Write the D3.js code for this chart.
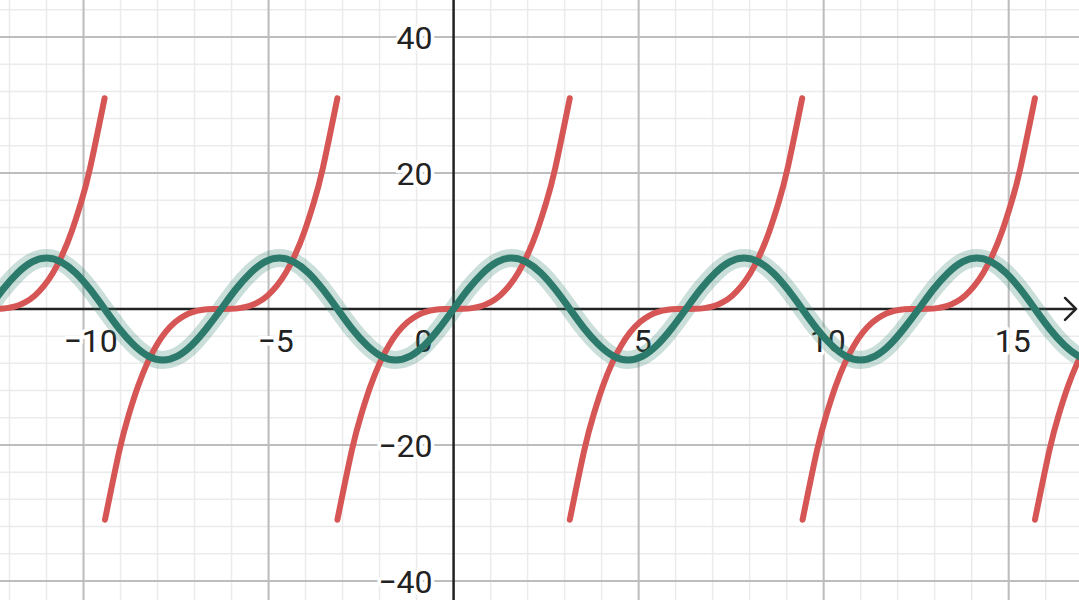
<!DOCTYPE html>
<html>
<head>
<meta charset="utf-8">
<script src="https://cdn.jsdelivr.net/npm/d3@7"></script>
<style>
  html, body { margin: 0; padding: 0; background: #fff; }
  svg { display: block; }
  text { font-family: Roboto, "Noto Sans", sans-serif; }
</style>
</head>
<body>
<svg id="chart" width="1079" height="600"></svg>
<script>
// ---- data ----
const xTickLabels = [-10, -5, 5, 10, 15];
const yTickLabels = [-40, -20, 20, 40];

// green wave: one cycle of key points (offset from cycle start, value)
const greenCycleStarts = [-18.85, -12.57, -6.28, 0, 6.28, 12.57];
const greenOffsets = [0, 0.39, 0.79, 1.18, 1.57, 1.96, 2.36, 2.75, 3.14, 3.53, 3.93, 4.32, 4.71, 5.11, 5.50, 5.89];
const greenValues  = [0, 2.87, 5.30, 6.93, 7.5, 6.93, 5.30, 2.87, 0, -2.87, -5.30, -6.93, -7.5, -6.93, -5.30, -2.87];

// red segments: one branch (offset from centre, value), repeated at each centre
const redCentres = [-12.57, -6.28, 0, 6.28, 12.57, 18.85];
const redOffsets = [-3.14, -2.75, -2.5, -2.25, -2, -1.75, -1.5, -1.25, -1, -0.75, -0.5, -0.25, 0,
                    0.25, 0.5, 0.75, 1, 1.25, 1.5, 1.75, 2, 2.25, 2.5, 2.75, 3.14];
const redValues  = [-31.0, -20.8, -15.6, -11.4, -8.0, -5.36, -3.38, -1.95, -1.0, -0.42, -0.125, -0.016, 0,
                    0.016, 0.125, 0.42, 1.0, 1.95, 3.38, 5.36, 8.0, 11.4, 15.6, 20.8, 31.0];

// ---- drawing ----
const W = 1079, H = 600;
const svg = d3.select("#chart");
const x = d3.scaleLinear().domain([-12.257, 16.9]).range([0, W]);
const y = d3.scaleLinear().domain([-42.8, 45.44]).range([H, 0]);

const minorX = d3.range(-12, 17, 1), minorY = d3.range(-40, 45, 4);
const majorX = d3.range(-10, 17, 5), majorY = d3.range(-40, 45, 20);

const grid = svg.append("g");
grid.selectAll("line.mx").data(minorX).join("line")
  .attr("x1", d => x(d)).attr("x2", d => x(d)).attr("y1", 0).attr("y2", H)
  .attr("stroke", "#ebebeb").attr("stroke-width", 1.5);
grid.selectAll("line.my").data(minorY).join("line")
  .attr("y1", d => y(d)).attr("y2", d => y(d)).attr("x1", 0).attr("x2", W)
  .attr("stroke", "#ebebeb").attr("stroke-width", 1.5);
grid.selectAll("line.Mx").data(majorX.filter(d => d !== 0)).join("line")
  .attr("x1", d => x(d)).attr("x2", d => x(d)).attr("y1", 0).attr("y2", H)
  .attr("stroke", "#bdbdbd").attr("stroke-width", 2);
grid.selectAll("line.My").data(majorY.filter(d => d !== 0)).join("line")
  .attr("y1", d => y(d)).attr("y2", d => y(d)).attr("x1", 0).attr("x2", W)
  .attr("stroke", "#bdbdbd").attr("stroke-width", 2);

// axes
const axisColor = "#222";
svg.append("line").attr("x1", 0).attr("x2", W - 3).attr("y1", y(0)).attr("y2", y(0))
  .attr("stroke", axisColor).attr("stroke-width", 2.5);
svg.append("path")
  .attr("d", `M${W - 14},${y(0) - 11} L${W - 3},${y(0)} L${W - 14},${y(0) + 11}`)
  .attr("fill", "none").attr("stroke", axisColor).attr("stroke-width", 2.5)
  .attr("stroke-linecap", "round").attr("stroke-linejoin", "round");
svg.append("line").attr("x1", x(0)).attr("x2", x(0)).attr("y1", 0).attr("y2", H)
  .attr("stroke", axisColor).attr("stroke-width", 2.5);

// labels
const labelG = svg.append("g").attr("font-size", 32).attr("fill", "#222")
  .attr("stroke", "#fff").attr("stroke-width", 7).attr("paint-order", "stroke")
  .attr("stroke-linejoin", "round");
const fmt = v => (v < 0 ? "\u2212" + Math.abs(v) : String(v));
labelG.selectAll("text.xl").data(xTickLabels).join("text")
  .attr("x", d => x(d) + (d < 0 ? 7 : 4)).attr("y", y(0) + 43)
  .attr("text-anchor", "middle").text(fmt);
labelG.selectAll("text.yl").data(yTickLabels).join("text")
  .attr("x", x(0) - 21).attr("y", d => y(d) + 12)
  .attr("text-anchor", "end").text(fmt);
labelG.append("text").attr("x", x(0) - 21).attr("y", y(0) + 43)
  .attr("text-anchor", "end").text("0");

// curves
const clip = svg.append("defs").append("clipPath").attr("id", "clip");
clip.append("rect").attr("x", 0).attr("y", 0).attr("width", W).attr("height", H);
const curves = svg.append("g").attr("clip-path", "url(#clip)");

const line = d3.line().x(d => x(d[0])).y(d => y(d[1])).curve(d3.curveNatural);

const greenPts = [];
greenCycleStarts.forEach(s => greenOffsets.forEach((o, i) => greenPts.push([s + o, greenValues[i]])));
greenPts.push([greenCycleStarts[greenCycleStarts.length - 1] + 6.28, 0]);

curves.append("path").attr("d", line(greenPts)).attr("fill", "none")
  .attr("stroke", "#2b7a6b").attr("stroke-opacity", 0.25).attr("stroke-width", 18)
  .attr("stroke-linecap", "round").attr("stroke-linejoin", "round");

redCentres.forEach(c => {
  const pts = redOffsets.map((o, i) => [c + o, redValues[i]]);
  curves.append("path").attr("d", line(pts)).attr("fill", "none")
    .attr("stroke", "#d65555").attr("stroke-width", 6)
    .attr("stroke-linecap", "round").attr("stroke-linejoin", "round");
});

curves.append("path").attr("d", line(greenPts)).attr("fill", "none")
  .attr("stroke", "#2b7a6b").attr("stroke-width", 7)
  .attr("stroke-linecap", "round").attr("stroke-linejoin", "round");
</script>
</body>
</html>
